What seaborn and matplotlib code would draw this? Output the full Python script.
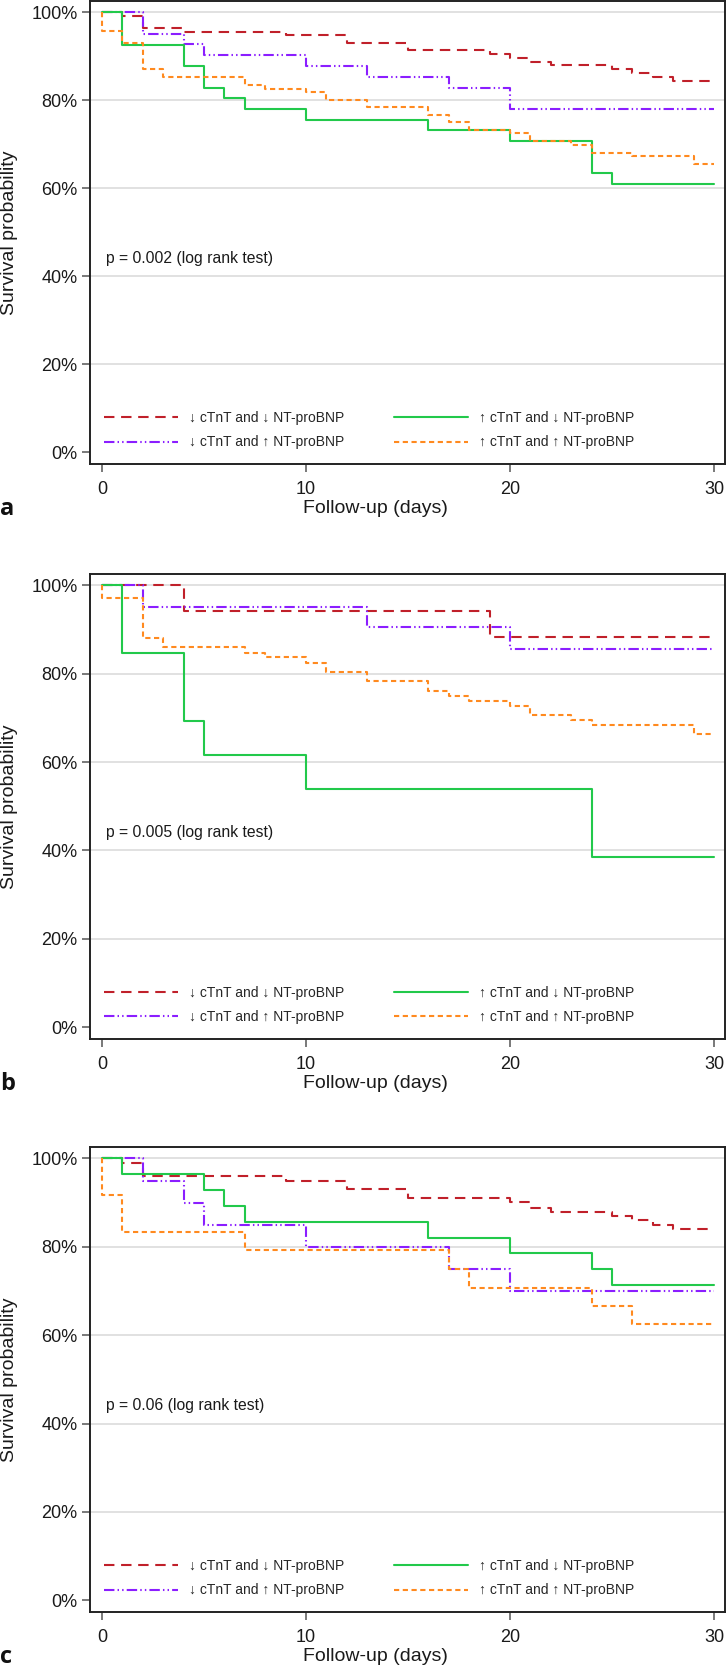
import pandas as pd
import matplotlib
matplotlib.use("Agg")
import matplotlib.pyplot as plt
import seaborn as sns

# group labels (legend order)
groups = ["↓ cTnT and ↓ NT-proBNP", "↓ cTnT and ↑ NT-proBNP",
          "↑ cTnT and ↓ NT-proBNP", "↑ cTnT and ↑ NT-proBNP"]
colors = ["#C0202A", "#8B1EFF", "#22C94B", "#FF8A1F"]

# panel a
red_a_t = [0, 1, 2, 4, 9, 12, 15, 19, 20, 21, 22, 25, 26, 27, 28, 30]
red_a_s = [100, 99.1, 96.5, 95.6, 94.9, 93.1, 91.4, 90.5, 89.7, 88.8, 88.0, 87.1, 86.3, 85.4, 84.5, 84.5]
purple_a_t = [0, 2, 4, 5, 10, 13, 17, 20, 30]
purple_a_s = [100, 95.1, 92.8, 90.4, 87.8, 85.4, 82.9, 78.1, 78.1]
green_a_t = [0, 1, 4, 5, 6, 7, 10, 16, 20, 24, 25, 30]
green_a_s = [100, 92.7, 87.8, 82.9, 80.5, 78.0, 75.6, 73.2, 70.8, 63.5, 61.1, 61.1]
orange_a_t = [0, 0, 1, 2, 3, 7, 8, 10, 11, 13, 16, 17, 18, 20, 21, 23, 24, 26, 29, 30]
orange_a_s = [100, 95.7, 93.1, 87.2, 85.3, 83.6, 82.7, 82.0, 80.2, 78.4, 76.7, 75.1, 73.3, 72.5, 70.7,
              69.8, 68.1, 67.3, 65.6, 65.6]

# panel b
red_b_t = [0, 4, 19, 30]
red_b_s = [100, 94.2, 88.3, 88.3]
purple_b_t = [0, 2, 13, 20, 30]
purple_b_s = [100, 95.2, 90.5, 85.7, 85.7]
green_b_t = [0, 1, 4, 5, 10, 24, 30]
green_b_s = [100, 84.6, 69.2, 61.5, 53.8, 38.5, 38.5]
orange_b_t = [0, 0, 2, 3, 7, 8, 10, 11, 13, 16, 17, 18, 20, 21, 23, 24, 29, 30]
orange_b_s = [100, 97.2, 88.1, 86.1, 84.7, 83.7, 82.5, 80.4, 78.3, 76.1, 75.0, 73.9, 72.8, 70.7,
              69.6, 68.5, 66.4, 66.4]

# panel c
red_c_t = [0, 1, 2, 9, 12, 15, 20, 21, 22, 25, 26, 27, 28, 30]
red_c_s = [100, 99.0, 96.0, 95.0, 93.0, 91.0, 90.1, 88.9, 88.0, 86.9, 86.0, 85.0, 84.0, 84.0]
purple_c_t = [0, 2, 4, 5, 10, 17, 20, 30]
purple_c_s = [100, 95, 90, 85, 80, 75, 70, 70]
green_c_t = [0, 1, 5, 6, 7, 16, 20, 24, 25, 30]
green_c_s = [100, 96.4, 92.9, 89.3, 85.7, 82.1, 78.6, 75.0, 71.4, 71.4]
orange_c_t = [0, 0, 1, 7, 17, 18, 24, 26, 30]
orange_c_s = [100, 91.7, 83.3, 79.2, 75.0, 70.8, 66.7, 62.5, 62.5]

p_texts = ["p = 0.002 (log rank test)", "p = 0.005 (log rank test)", "p = 0.06 (log rank test)"]
panel_letters = ["a", "b", "c"]

panels = [
    [(red_a_t, red_a_s), (purple_a_t, purple_a_s), (green_a_t, green_a_s), (orange_a_t, orange_a_s)],
    [(red_b_t, red_b_s), (purple_b_t, purple_b_s), (green_b_t, green_b_s), (orange_b_t, orange_b_s)],
    [(red_c_t, red_c_s), (purple_c_t, purple_c_s), (green_c_t, green_c_s), (orange_c_t, orange_c_s)],
]

sns.set_style("white")
plt.rcParams["font.family"] = ["Liberation Sans", "DejaVu Sans"]

dash_map = {groups[0]: (5.0, 3.2),
            groups[1]: (5.0, 1.5, 0.7, 1.5, 0.7, 1.5),
            groups[2]: "",
            groups[3]: (2.5, 1.7)}
palette = dict(zip(groups, colors))

fig = plt.figure(figsize=(7.27, 16.72), dpi=100)
# axes boxes in pixels: left, right, top, bottom
W, H = 727, 1672
boxes = [(90, 725, 1, 464.3), (90, 725, 574, 1039), (90, 725, 1147, 1612.3)]

for i, (series, box) in enumerate(zip(panels, boxes)):
    l, r, t, b = box
    ax = fig.add_axes([l / W, 1 - b / H, (r - l) / W, (b - t) / H])

    rows = []
    for g, (ts, ss) in zip(groups, series):
        for tt, s in zip(ts, ss):
            rows.append({"day": tt, "surv": s, "group": g})
    df = pd.DataFrame(rows)

    sns.lineplot(data=df, x="day", y="surv", hue="group", style="group",
                 hue_order=groups, style_order=groups, palette=palette,
                 dashes=dash_map, estimator=None, sort=False,
                 drawstyle="steps-post", linewidth=1.5, ax=ax)

    ax.set_xlim(-0.59, 30.54)
    ax.set_ylim(-2.7, 102.6)
    ax.set_xticks([0, 10, 20, 30])
    ax.set_yticks([0, 20, 40, 60, 80, 100])
    ax.set_yticklabels(["0%", "20%", "40%", "60%", "80%", "100%"])
    ax.tick_params(axis="both", which="major", direction="out", length=6, width=1.1,
                   color="#555555", labelsize=13, labelcolor="#1a1a1a")
    ax.tick_params(axis="y", left=True, pad=3)
    ax.tick_params(axis="x", bottom=True, pad=6)

    ax.yaxis.grid(True, color="#dcdcdc", linewidth=1.2)
    ax.xaxis.grid(False)
    ax.set_axisbelow(True)
    ax.get_ygridlines()[0].set_visible(False)

    for sp in ax.spines.values():
        sp.set_visible(True)
        sp.set_color("#222222")
        sp.set_linewidth(1.4)

    ax.set_xlabel("Follow-up (days)", fontsize=14, color="#1a1a1a")
    ax.xaxis.set_label_coords(0.449, -0.077)
    ax.set_ylabel("Survival probability", fontsize=14, color="#1a1a1a")
    ax.yaxis.set_label_coords(-0.114, 0.5)

    ax.text(0.2, 44, p_texts[i], fontsize=11.3, color="#1a1a1a", va="center", ha="left")

    handles, labels = ax.get_legend_handles_labels()
    ax.legend(handles, labels, ncol=2, loc="lower left", bbox_to_anchor=(0.022, 0.032),
              frameon=False, fontsize=10, handlelength=5.3, handletextpad=0.8,
              columnspacing=3.6, labelspacing=0.75, borderpad=0, borderaxespad=0)

    ax.text(-0.142, -0.0965, panel_letters[i], transform=ax.transAxes,
            fontsize=17, fontweight="bold", family=["Open Sans", "DejaVu Sans"],
            ha="left", va="center", color="#111111")

fig.savefig("out.png", dpi=100)
